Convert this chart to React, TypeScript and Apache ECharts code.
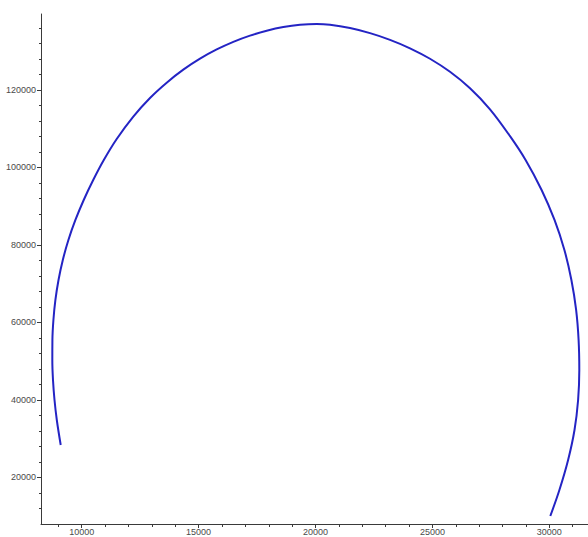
import React, { useEffect, useRef } from "react";
import * as echarts from "echarts";

// Trajectory samples (x, y) along the curve, starting at the lower-left end
const curveX = [
  9102, 8935, 8837, 8772, 8743, 8747, 8790, 8875, 9008, 9192, 9431, 9731, 10086, 10492,
  10945, 11497, 12207, 12921, 13635, 14345, 15060, 15774, 16484, 17198, 17912, 18623,
  19337, 20051, 20620, 21475, 22331, 23186, 24042, 24897, 25752, 26608, 27463, 28319,
  28985, 29670, 30222, 30645, 30944, 31146, 31252, 31282, 31231, 31077, 30803, 30431,
  30042,
];
const curveY = [
  28387, 34838, 40000, 45161, 50322, 55483, 60645, 65806, 70967, 76128, 81289, 86450,
  91612, 96773, 101934, 107353, 113134, 117934, 121882, 125237, 128076, 130450, 132411,
  134011, 135275, 136230, 136824, 137030, 136824, 135972, 134656, 132927, 130747, 128050,
  124682, 120437, 115005, 108076, 101934, 94192, 86450, 78709, 70967, 63225, 55483, 47741,
  40000, 32258, 24516, 16774, 10065,
];

// Axis extents and tick positions
const xRange = [8259, 31654];
const yRange = [8000, 139600];
const xMajorTicks = [10000, 15000, 20000, 25000, 30000];
const yMajorTicks = [20000, 40000, 60000, 80000, 100000, 120000];
const xMinorStep = 1000;
const yMinorStep = 4000;

const minorBetween = (range: number[], step: number, majors: number[]) => {
  const out: number[] = [];
  const start = Math.ceil(range[0] / step) * step;
  for (let v = start; v <= range[1]; v += step) {
    if (v > range[0] && !majors.includes(v)) out.push(v);
  }
  return out;
};

const AXIS_COLOR = "#3a3a3a";
const LABEL_COLOR = "#4a4a4a";

export default function App() {
  const ref = useRef<HTMLDivElement>(null);

  useEffect(() => {
    if (!ref.current) return;
    const chart = echarts.init(ref.current, undefined, { renderer: "svg" });
    const points = curveX.map((x, i) => [x, curveY[i]]);
    const xMinor = minorBetween(xRange, xMinorStep, xMajorTicks);
    const yMinor = minorBetween(yRange, yMinorStep, yMajorTicks);

    const labelStyle = {
      color: LABEL_COLOR,
      fontFamily: "Liberation Sans, Arial, sans-serif",
      fontSize: 9,
      formatter: (v: number) => String(v),
    };

    chart.setOption({
      animation: false,
      backgroundColor: "#ffffff",
      grid: { left: 41, right: 0, top: 14, bottom: 13, containLabel: false },
      xAxis: [
        {
          type: "value",
          min: xRange[0],
          max: xRange[1],
          position: "bottom",
          splitLine: { show: false },
          axisLine: { show: true, onZero: false, lineStyle: { color: AXIS_COLOR, width: 1 } },
          axisTick: {
            show: true,
            length: 4,
            customValues: xMajorTicks,
            lineStyle: { color: AXIS_COLOR },
          },
          axisLabel: { ...labelStyle, margin: 3, customValues: xMajorTicks },
        },
        {
          type: "value",
          min: xRange[0],
          max: xRange[1],
          position: "bottom",
          splitLine: { show: false },
          axisLine: { show: false, onZero: false },
          axisTick: {
            show: true,
            length: 3,
            customValues: xMinor,
            lineStyle: { color: AXIS_COLOR },
          },
          axisLabel: { show: false },
        },
      ],
      yAxis: [
        {
          type: "value",
          min: yRange[0],
          max: yRange[1],
          position: "left",
          splitLine: { show: false },
          axisLine: { show: true, onZero: false, lineStyle: { color: AXIS_COLOR, width: 1 } },
          axisTick: {
            show: true,
            length: 4,
            customValues: yMajorTicks,
            lineStyle: { color: AXIS_COLOR },
          },
          axisLabel: { ...labelStyle, margin: 5, customValues: yMajorTicks },
        },
        {
          type: "value",
          min: yRange[0],
          max: yRange[1],
          position: "left",
          splitLine: { show: false },
          axisLine: { show: false, onZero: false },
          axisTick: {
            show: true,
            length: 2,
            customValues: yMinor,
            lineStyle: { color: AXIS_COLOR },
          },
          axisLabel: { show: false },
        },
      ],
      series: [
        {
          type: "line",
          data: points,
          xAxisIndex: 0,
          yAxisIndex: 0,
          showSymbol: false,
          smooth: 0.35,
          lineStyle: { color: "#2424c4", width: 2 },
        },
      ],
    });

    return () => chart.dispose();
  }, []);

  return (
    <div
      ref={ref}
      style={{ position: "fixed", left: 0, top: 0, width: 588, height: 537 }}
    />
  );
}
